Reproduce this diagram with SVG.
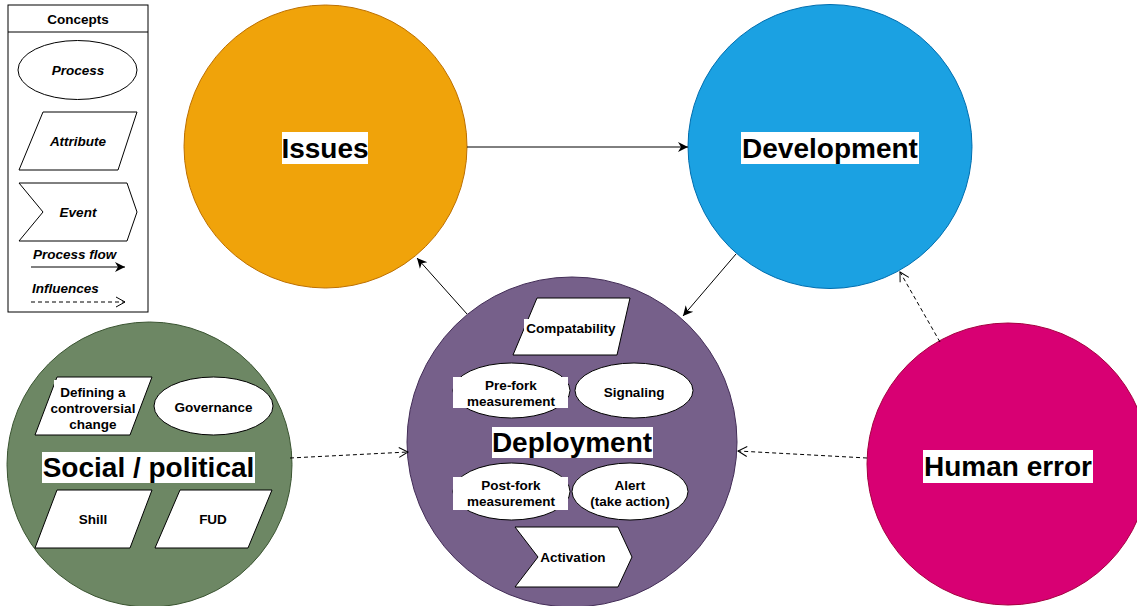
<svg xmlns="http://www.w3.org/2000/svg" width="1137" height="606" viewBox="0 0 1137 606">
<style>
text{font-family:"Liberation Sans",Arial,Helvetica,sans-serif;font-weight:bold;fill:#000;text-anchor:middle}
.big{font-size:28px}
.sm{font-size:13.5px}
.it{font-style:italic}
.shape{fill:#fff;stroke:#000;stroke-width:1}
.bg{fill:#fff}
.flow{fill:none;stroke:#000;stroke-width:1}
.infl{fill:none;stroke:#000;stroke-width:1;stroke-dasharray:4 3}
</style>
<defs>
<marker id="fa" markerUnits="userSpaceOnUse" markerWidth="12" markerHeight="12" refX="10" refY="5" viewBox="0 0 12 10" orient="auto">
<path d="M0,0 L10,5 L0,10 L3,5 Z" fill="#000"/>
</marker>
<marker id="oa" markerUnits="userSpaceOnUse" markerWidth="12" markerHeight="12" refX="10" refY="5" viewBox="0 0 12 10" orient="auto">
<path d="M1,0 L10,5 L1,10" fill="none" stroke="#000" stroke-width="1"/>
</marker>
</defs>
<rect width="1137" height="606" fill="#fff"/>

<g id="legend">
<rect x="8" y="5" width="140" height="307" fill="#fff" stroke="#000"/>
<line x1="8" y1="32" x2="148" y2="32" stroke="#000"/>
<text class="sm" x="78" y="24">Concepts</text>
<ellipse class="shape" cx="77.5" cy="70" rx="59.5" ry="29.5"/>
<text class="sm it" x="78" y="75">Process</text>
<polygon class="shape" points="43,112 137,112 118,170 19,170"/>
<text class="sm it" x="78" y="146">Attribute</text>
<polygon class="shape" points="19,183 127,183 137,212 127,241 19,241 43,212"/>
<text class="sm it" x="78" y="217">Event</text>
<text class="sm it" x="33" y="259" style="text-anchor:start">Process flow</text>
<line class="flow" x1="31" y1="267" x2="125" y2="267" marker-end="url(#fa)"/>
<text class="sm it" x="32" y="293" style="text-anchor:start">Influences</text>
<line class="infl" x1="31" y1="302" x2="125" y2="302" marker-end="url(#oa)"/>
</g>

<g id="issues">
<circle cx="325.5" cy="146.5" r="141.5" fill="#f0a30a" stroke="#BD7000"/>
<rect class="bg" x="282" y="132" width="86" height="32"/>
<text class="big" x="325" y="158">Issues</text>
</g>

<g id="development">
<circle cx="830" cy="146.5" r="142" fill="#1ba1e2" stroke="#006EAF"/>
<rect class="bg" x="741" y="132" width="178" height="32"/>
<text class="big" x="830" y="158">Development</text>
</g>

<g id="social">
<circle cx="149.5" cy="464.5" r="142.5" fill="#6d8764" stroke="#3A5431"/>
<polygon class="shape" points="57,377 152,377 130,435 35,435"/>
<rect class="bg" x="54" y="380" width="78" height="48"/>
<text class="sm" x="93" y="397">Defining a</text>
<text class="sm" x="93" y="413">controversial</text>
<text class="sm" x="93" y="429">change</text>
<ellipse class="shape" cx="213.5" cy="406" rx="59.5" ry="29"/>
<text class="sm" x="213.5" y="412">Governance</text>
<rect class="bg" x="42" y="452" width="213" height="31"/>
<text class="big" x="148.5" y="477">Social / political</text>
<polygon class="shape" points="57,490 152,490 130,548 35,548"/>
<text class="sm" x="93" y="524">Shill</text>
<polygon class="shape" points="180,490 272,490 248,548 155,548"/>
<text class="sm" x="213" y="524">FUD</text>
</g>

<g id="deployment">
<circle cx="572" cy="442" r="165" fill="#76608a" stroke="#432D57"/>
<polygon class="shape" points="537,298 630,298 617,355 513,355"/>
<rect class="bg" x="524" y="319" width="94" height="18"/>
<text class="sm" x="571" y="333">Compatability</text>
<ellipse class="shape" cx="511.5" cy="390.5" rx="58.5" ry="27.5"/>
<rect class="bg" x="453" y="377" width="115" height="31"/>
<text class="sm" x="511" y="390">Pre-fork</text>
<text class="sm" x="511" y="406">measurement</text>
<ellipse class="shape" cx="634" cy="390.5" rx="59" ry="27.5"/>
<text class="sm" x="634" y="397">Signaling</text>
<rect class="bg" x="492" y="427" width="161" height="31"/>
<text class="big" x="572" y="452">Deployment</text>
<ellipse class="shape" cx="511.5" cy="491.5" rx="58.5" ry="28.5"/>
<rect class="bg" x="453" y="477" width="115" height="33"/>
<text class="sm" x="511" y="490">Post-fork</text>
<text class="sm" x="511" y="506">measurement</text>
<ellipse class="shape" cx="630" cy="491.5" rx="58" ry="28.5"/>
<text class="sm" x="630" y="490">Alert</text>
<text class="sm" x="630" y="506">(take action)</text>
<polygon class="shape" points="515,527 618,527 632,557 618,587 515,587 538,557"/>
<text class="sm" x="573" y="562">Activation</text>
</g>

<g id="human-error">
<circle cx="1008" cy="464" r="141" fill="#d80073" stroke="#A50040"/>
<rect class="bg" x="923" y="450" width="170" height="33"/>
<text class="big" x="1008" y="476">Human error</text>
</g>

<g id="connectors">
<line class="flow" x1="467" y1="147" x2="688" y2="147" marker-end="url(#fa)"/>
<line class="flow" x1="736" y1="254" x2="683" y2="316" marker-end="url(#fa)"/>
<line class="flow" x1="467" y1="314" x2="417" y2="258" marker-end="url(#fa)"/>
<line class="infl" x1="290" y1="458" x2="408" y2="452" marker-end="url(#oa)"/>
<line class="infl" x1="867" y1="458" x2="738" y2="451" marker-end="url(#oa)"/>
<line class="infl" x1="940" y1="342" x2="900" y2="272" marker-end="url(#oa)"/>
</g>
</svg>
